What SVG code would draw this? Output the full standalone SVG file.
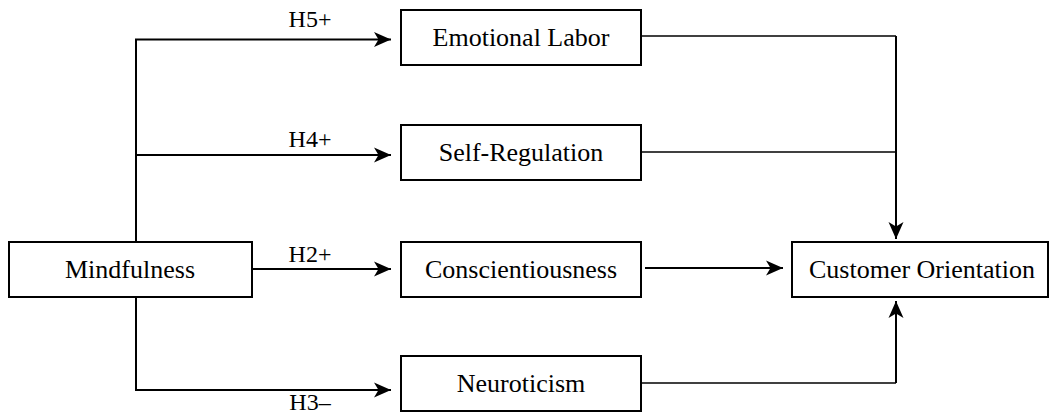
<svg xmlns="http://www.w3.org/2000/svg" width="1050" height="415" viewBox="0 0 1050 415">
<style>
.box{fill:#fff;stroke:#000;stroke-width:2}
.t{font-family:"Liberation Serif","Times New Roman",serif;font-size:26px;fill:#000;text-anchor:middle}
.lbl{font-family:"Liberation Serif","Times New Roman",serif;font-size:24px;fill:#000;text-anchor:middle}
.c{fill:none;stroke:#000;stroke-width:2}
.cn{fill:none;stroke:#000;stroke-width:1.6}
</style>
<defs>
<marker id="ah" markerUnits="userSpaceOnUse" markerWidth="18" markerHeight="16" refX="17" refY="7.5" orient="auto" viewBox="0 0 18 15">
<path d="M0,0 L17,7.5 L0,15 L4.5,7.5 Z" fill="#000"/>
</marker>
</defs>
<g id="connectors">
<path class="c" d="M136,241 V39.5 H391" marker-end="url(#ah)"/>
<path class="c" d="M136,155 H391" marker-end="url(#ah)"/>
<path class="c" d="M252,269 H391" marker-end="url(#ah)"/>
<path class="c" d="M136,298 V390 H391" marker-end="url(#ah)"/>
<path class="c" d="M645,268 H783" marker-end="url(#ah)"/>
<path class="cn" d="M641,36 H896"/>
<path class="cn" d="M641,152 H896"/>
<path class="c" d="M896,36 V239" marker-end="url(#ah)"/>
<path class="cn" d="M641,383 H896"/>
<path class="c" d="M896,383 V301" marker-end="url(#ah)"/>
<text class="lbl" x="310" y="27">H5+</text>
<text class="lbl" x="310" y="147">H4+</text>
<text class="lbl" x="310" y="262">H2+</text>
<text class="lbl" x="310" y="410">H3–</text>
</g>
<g id="emotional-labor"><rect class="box" x="401" y="10" width="240" height="55"/><text class="t" x="521" y="46">Emotional Labor</text></g>
<g id="self-regulation"><rect class="box" x="401" y="125" width="240" height="55"/><text class="t" x="521" y="161">Self-Regulation</text></g>
<g id="mindfulness"><rect class="box" x="9" y="242" width="243" height="55"/><text class="t" x="130" y="278">Mindfulness</text></g>
<g id="conscientiousness"><rect class="box" x="401" y="242" width="240" height="55"/><text class="t" x="521" y="278">Conscientiousness</text></g>
<g id="neuroticism"><rect class="box" x="401" y="356" width="240" height="55"/><text class="t" x="521" y="392">Neuroticism</text></g>
<g id="customer-orientation"><rect class="box" x="792" y="242" width="256" height="55"/><text class="t" x="922" y="278">Customer Orientation</text></g>
</svg>
